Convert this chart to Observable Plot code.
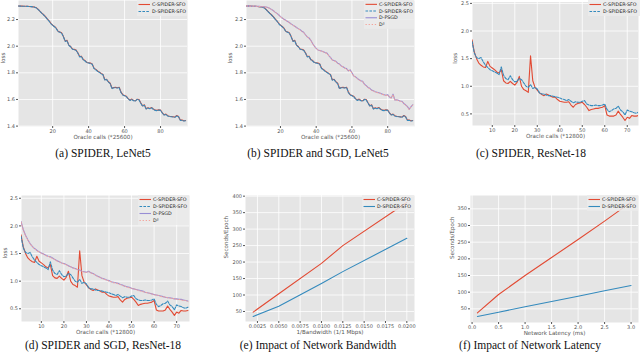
<!DOCTYPE html>
<html><head><meta charset="utf-8">
<script src="https://cdn.jsdelivr.net/npm/d3@7"></script>
<script src="https://cdn.jsdelivr.net/npm/@observablehq/plot@0.6"></script>
<style>
body{margin:0;background:#fff;}
#root{position:relative;width:640px;height:358px;overflow:hidden;}
.panel{position:absolute;}
.cap{position:absolute;font-family:"Liberation Serif",serif;font-size:11.5px;color:#111;transform:translate(-50%,-50%);white-space:nowrap;}
</style></head><body><div id="root"></div>
<script>
// ---------- data ----------
const lenetC = [2.302,2.301,2.301,2.300,2.300,2.299,2.298,2.297,2.296,2.293,2.288,2.276,2.262,2.248,2.236,2.222,2.205,2.190,2.172,2.158,2.148,2.135,2.112,2.106,2.100,2.072,2.038,2.044,2.008,1.998,1.979,1.976,1.972,1.950,1.922,1.925,1.900,1.892,1.878,1.876,1.873,1.866,1.835,1.826,1.814,1.805,1.796,1.788,1.748,1.752,1.733,1.722,1.684,1.690,1.691,1.688,1.692,1.655,1.636,1.630,1.624,1.606,1.595,1.603,1.592,1.590,1.602,1.600,1.575,1.552,1.560,1.530,1.538,1.532,1.540,1.528,1.520,1.518,1.522,1.520,1.500,1.485,1.490,1.478,1.474,1.472,1.470,1.468,1.480,1.472,1.445,1.446,1.440,1.442];
const lenetD = [2.302,2.301,2.300,2.300,2.300,2.299,2.298,2.297,2.295,2.292,2.286,2.274,2.260,2.247,2.234,2.220,2.203,2.189,2.170,2.156,2.146,2.132,2.110,2.104,2.098,2.070,2.036,2.041,2.006,1.996,1.977,1.974,1.969,1.948,1.920,1.922,1.898,1.889,1.876,1.874,1.870,1.864,1.832,1.823,1.811,1.803,1.793,1.785,1.745,1.749,1.731,1.719,1.681,1.688,1.688,1.686,1.690,1.652,1.634,1.628,1.621,1.604,1.593,1.600,1.590,1.588,1.600,1.597,1.572,1.550,1.557,1.528,1.536,1.530,1.538,1.526,1.518,1.516,1.520,1.518,1.498,1.483,1.487,1.476,1.472,1.470,1.468,1.466,1.477,1.470,1.443,1.444,1.438,1.440];
const lenetPSGD = [2.302,2.301,2.301,2.300,2.300,2.300,2.299,2.299,2.298,2.297,2.296,2.294,2.290,2.284,2.276,2.268,2.256,2.246,2.236,2.222,2.212,2.202,2.194,2.186,2.178,2.166,2.158,2.150,2.140,2.132,2.124,2.112,2.104,2.086,2.070,2.062,2.044,2.020,2.000,1.984,1.972,1.968,1.964,1.958,1.952,1.948,1.930,1.916,1.896,1.892,1.886,1.872,1.866,1.852,1.846,1.836,1.832,1.815,1.822,1.800,1.776,1.770,1.758,1.748,1.740,1.736,1.714,1.704,1.690,1.684,1.670,1.666,1.658,1.654,1.650,1.646,1.640,1.636,1.632,1.636,1.618,1.612,1.640,1.596,1.598,1.594,1.588,1.586,1.570,1.560,1.548,1.526,1.545,1.560];
const lenetD2 = [2.302,2.301,2.300,2.300,2.300,2.300,2.299,2.298,2.298,2.297,2.295,2.293,2.289,2.283,2.275,2.266,2.255,2.245,2.234,2.221,2.211,2.201,2.193,2.185,2.176,2.165,2.156,2.149,2.138,2.131,2.122,2.111,2.102,2.085,2.068,2.060,2.042,2.018,1.998,1.982,1.971,1.966,1.962,1.957,1.950,1.946,1.928,1.914,1.895,1.890,1.884,1.870,1.864,1.850,1.844,1.834,1.830,1.812,1.820,1.798,1.774,1.768,1.756,1.746,1.738,1.734,1.712,1.702,1.688,1.682,1.668,1.664,1.656,1.652,1.648,1.644,1.638,1.634,1.630,1.634,1.616,1.610,1.636,1.594,1.596,1.592,1.586,1.584,1.568,1.558,1.546,1.524,1.543,1.558];

const resC = [1.84,1.62,1.50,1.42,1.38,1.35,1.34,1.45,1.36,1.33,1.30,1.26,1.24,1.30,1.10,1.06,1.05,1.09,1.05,1.02,1.07,1.18,1.00,0.94,0.92,0.89,1.55,1.10,0.98,0.93,0.88,0.85,0.83,0.86,0.84,0.82,0.80,0.80,0.76,0.73,0.72,0.71,0.71,0.72,0.66,0.62,0.67,0.69,0.70,0.71,0.67,0.62,0.56,0.58,0.59,0.60,0.60,0.61,0.62,0.65,0.48,0.46,0.46,0.46,0.48,0.55,0.49,0.44,0.38,0.44,0.42,0.47,0.46,0.46,0.47];
const resD = [1.81,1.60,1.52,1.50,1.52,1.44,1.38,1.34,1.30,1.28,1.26,1.24,1.21,1.35,1.20,1.14,1.12,1.19,1.12,1.08,1.09,1.14,1.12,1.06,1.00,0.98,1.03,0.96,0.98,0.95,0.88,0.86,0.86,0.84,0.83,0.83,0.82,0.81,0.80,0.79,0.77,0.76,0.74,0.76,0.73,0.70,0.72,0.71,0.71,0.73,0.74,0.68,0.66,0.65,0.65,0.66,0.65,0.65,0.66,0.68,0.58,0.54,0.56,0.59,0.60,0.64,0.57,0.54,0.48,0.57,0.55,0.54,0.52,0.51,0.53];
const resPSGD = [2.08,1.93,1.83,1.75,1.68,1.63,1.59,1.56,1.53,1.51,1.49,1.47,1.45,1.44,1.42,1.39,1.37,1.35,1.33,1.32,1.30,1.28,1.26,1.24,1.23,1.21,1.20,1.18,1.17,1.16,1.18,1.15,1.14,1.11,1.09,1.07,1.05,1.04,1.02,1.01,0.99,0.98,0.97,0.96,0.94,0.93,0.91,0.90,0.89,0.87,0.86,0.85,0.84,0.83,0.82,0.80,0.79,0.78,0.77,0.76,0.75,0.74,0.73,0.72,0.71,0.70,0.70,0.69,0.68,0.68,0.67,0.67,0.66,0.65,0.64];
const resD2 = [2.07,1.92,1.82,1.74,1.68,1.62,1.59,1.55,1.53,1.50,1.49,1.46,1.45,1.43,1.41,1.39,1.36,1.35,1.33,1.31,1.30,1.27,1.26,1.24,1.22,1.21,1.19,1.18,1.16,1.16,1.17,1.15,1.13,1.11,1.08,1.07,1.05,1.03,1.02,1.00,0.99,0.97,0.97,0.95,0.94,0.92,0.91,0.89,0.88,0.87,0.86,0.85,0.83,0.82,0.81,0.80,0.79,0.78,0.77,0.75,0.75,0.74,0.72,0.72,0.71,0.70,0.69,0.69,0.68,0.67,0.67,0.66,0.65,0.65,0.63];

const bwX = [0.002, 0.005, 0.01, 0.0125, 0.02];
const bwC = [48, 104, 196, 250, 381];
const bwD = [35, 66, 135, 171, 272];

const latX = [0.1, 0.5, 1.0, 1.5, 2.0, 2.5, 3.0];
const latC = [38, 93, 150, 204, 258, 313, 370];
const latD = [27, 40, 56, 72, 88, 104, 120];

const lenetXTicks = [20, 40, 60, 80];
const lenetYTicks = [1.4, 1.6, 1.8, 2.0, 2.2];
const resXTicks = [10, 20, 30, 40, 50, 60, 70];
const resYTicks = [0.5, 1.0, 1.5, 2.0, 2.5];
const bwXTicks = [0.0025, 0.005, 0.0075, 0.01, 0.0125, 0.015, 0.0175, 0.02];
const bwYTicks = [50, 100, 150, 200, 250, 300, 350, 400];
const latXTicks = [0, 0.5, 1.0, 1.5, 2.0, 2.5, 3.0];
const latYTicks = [50, 100, 150, 200, 250, 300, 350];

const captions = ["(a)  SPIDER, LeNet5", "(b)  SPIDER and SGD, LeNet5", "(c)  SPIDER, ResNet-18",
                  "(d)  SPIDER and SGD, ResNet-18", "(e)  Impact of Network Bandwidth", "(f)  Impact of Network Latency"];

// ---------- styles ----------
const RED = "#E24A33", BLUE = "#348ABD", PURPLE = "#988ED5", PINK = "#F4A49C";
const S = {
  C: {label: "C-SPIDER-SFO", color: RED, dash: null, w: 1.1},
  D: {label: "D-SPIDER-SFO", color: BLUE, dash: "2.6,1.3", w: 1.1},
  P: {label: "D-PSGD", color: PURPLE, dash: null, w: 1.1},
  D2: {label: "D²", color: PINK, dash: "1.3,1.8", w: 1.0}
};
const idx = arr => arr.map((_, i) => i + 1);
const rows = (xs, ys) => ys.map((y, i) => ({x: xs[i], y}));

const root = document.getElementById("root");

function panel(o) {
  const marks = [
    Plot.frame({fill: "#E5E5E5", stroke: null}),
    Plot.gridX({ticks: o.xTicks, stroke: "white", strokeOpacity: 1, strokeWidth: 0.8}),
    Plot.gridY({ticks: o.yTicks, stroke: "white", strokeOpacity: 1, strokeWidth: 0.8}),
    ...o.series.map(s => Plot.line(rows(s.x, s.y), {x: "x", y: "y", stroke: s.st.color, strokeWidth: s.st.w,
      strokeDasharray: s.st.dash, clip: true})),
    Plot.axisX({ticks: o.xTicks, tickFormat: o.xFmt, tickSize: 2, tickPadding: 1, stroke: "#555", label: null}),
    Plot.axisY({ticks: o.yTicks, tickFormat: o.yFmt, tickSize: 2, tickPadding: 1.5, stroke: "#555", label: null}),
    Plot.text([o.xLabel], {text: d => d, frameAnchor: "bottom", dy: o.xLabelDy, fontSize: 5.6, fill: "#555"}),
    Plot.text([o.yLabel], {text: d => d, frameAnchor: "left", dx: -o.yLabelDx, rotate: -90, fontSize: 5.6, fill: "#555"})
  ];
  const svg = Plot.plot({
    width: o.w, height: o.h,
    marginLeft: o.ml, marginRight: o.mr, marginTop: o.mt, marginBottom: o.mb,
    x: {domain: o.xDomain}, y: {domain: o.yDomain},
    style: {fontFamily: "DejaVu Sans", fontSize: "5px", color: "#555", background: "transparent", overflow: "visible"},
    marks
  });
  // legend inside the axes, top right
  const g = d3.select(svg).append("g").attr("text-anchor", "start");
  const rowH = o.legRow;
  const L = o.legend;
  g.append("rect").attr("x", L.x).attr("y", L.y).attr("width", L.w).attr("height", o.series.length * rowH + 2)
    .attr("fill", "#EBEBEB").attr("fill-opacity", 0.85);
  o.series.forEach((s, i) => {
    const cy = L.y + 1 + rowH * (i + 0.5);
    g.append("line").attr("x1", L.x + 1.5).attr("x2", L.x + 13).attr("y1", cy).attr("y2", cy)
      .attr("stroke", s.st.color).attr("stroke-width", 1.1).attr("stroke-dasharray", s.st.dash);
    g.append("text").attr("x", L.x + 15).attr("y", cy).attr("dy", "0.36em").attr("text-anchor", "start")
      .attr("font-size", 4.8).attr("font-family", "DejaVu Sans").attr("fill", "#222").text(s.st.label);
  });
  svg.style.position = "absolute";
  svg.style.left = o.left + "px";
  svg.style.top = o.top + "px";
  root.appendChild(svg);
}

const f1 = d3.format(".1f"), f4 = d3.format(".4f"), f0 = d3.format("d");
const lx = idx(lenetC), rx = idx(resC);

// (a)
panel({left: 0, top: 0, w: 215, h: 150, ml: 18, mr: 28, mt: 0, mb: 24,
  xDomain: [1, 95], yDomain: [1.397, 2.343], xTicks: lenetXTicks, yTicks: lenetYTicks, xFmt: f0, yFmt: f1,
  xLabel: "Oracle calls (*25600)", xLabelDy: 12.5, yLabel: "loss", yLabelDx: 15,
  legend: {x: 137, y: 0, w: 50}, legRow: 7,
  series: [{x: lx, y: lenetC, st: S.C}, {x: idx(lenetD), y: lenetD, st: S.D}]});
// (b)
panel({left: 215, top: 0, w: 210, h: 150, ml: 31, mr: 11, mt: 0, mb: 24,
  xDomain: [1, 95], yDomain: [1.397, 2.343], xTicks: lenetXTicks, yTicks: lenetYTicks, xFmt: f0, yFmt: f1,
  xLabel: "Oracle calls (*25600)", xLabelDy: 12.5, yLabel: "loss", yLabelDx: 16,
  legend: {x: 149, y: 0, w: 50}, legRow: 6.7,
  series: [{x: lx, y: lenetC, st: S.C}, {x: idx(lenetD), y: lenetD, st: S.D},
           {x: idx(lenetPSGD), y: lenetPSGD, st: S.P}, {x: idx(lenetD2), y: lenetD2, st: S.D2}]});
// (c)
panel({left: 425, top: 0, w: 215, h: 150, ml: 47, mr: 2, mt: 1.5, mb: 25,
  xDomain: [1.2, 75], yDomain: [0.29, 2.525], xTicks: resXTicks, yTicks: resYTicks, xFmt: f0, yFmt: f1,
  xLabel: "Oracle calls (*12800)", xLabelDy: 12.5, yLabel: "loss", yLabelDx: 17,
  legend: {x: 163, y: 0, w: 52}, legRow: 7,
  series: [{x: rx, y: resC, st: S.C}, {x: idx(resD), y: resD, st: S.D}]});
// (d)
panel({left: 0, top: 175, w: 215, h: 165, ml: 21, mr: 26, mt: 20, mb: 19,
  xDomain: [1.2, 75.7], yDomain: [0.27, 2.55], xTicks: resXTicks, yTicks: resYTicks, xFmt: f0, yFmt: f1,
  xLabel: "Oracle calls (*12800)", xLabelDy: 12.5, yLabel: "loss", yLabelDx: 16,
  legend: {x: 138, y: 20, w: 51}, legRow: 7,
  series: [{x: rx, y: resC, st: S.C}, {x: idx(resD), y: resD, st: S.D},
           {x: idx(resPSGD), y: resPSGD, st: S.P}, {x: idx(resD2), y: resD2, st: S.D2}]});
// (e)
panel({left: 215, top: 175, w: 210, h: 165, ml: 30, mr: 11, mt: 20, mb: 19,
  xDomain: [0.0011, 0.0209], yDomain: [19.6, 402], xTicks: bwXTicks, yTicks: bwYTicks, xFmt: f4, yFmt: f0,
  xLabel: "1/Bandwidth (1/1 Mbps)", xLabelDy: 12.5, yLabel: "Seconds/Epoch", yLabelDx: 19,
  legend: {x: 147, y: 20, w: 52}, legRow: 7,
  series: [{x: bwX, y: bwC, st: {...S.C, dash: null}}, {x: bwX, y: bwD, st: {...S.D, dash: null}}]});
// (f)
panel({left: 425, top: 175, w: 215, h: 165, ml: 45, mr: 2, mt: 20, mb: 18,
  xDomain: [-0.03, 3.14], yDomain: [9, 390], xTicks: latXTicks, yTicks: latYTicks, xFmt: f1, yFmt: f0,
  xLabel: "Network Latency (ms)", xLabelDy: 12, yLabel: "Seconds/Epoch", yLabelDx: 18,
  legend: {x: 162, y: 20, w: 51}, legRow: 7,
  series: [{x: latX, y: latC, st: {...S.C, dash: null}}, {x: latX, y: latD, st: {...S.D, dash: null}}]});

// captions
const capPos = [[103, 153], [318, 153], [531, 153], [103, 345], [318, 345], [530, 345]];
captions.forEach((t, i) => {
  const d = document.createElement("div");
  d.className = "cap";
  d.textContent = t;
  d.style.left = capPos[i][0] + "px";
  d.style.top = capPos[i][1] + "px";
  root.appendChild(d);
});
</script></body></html>
